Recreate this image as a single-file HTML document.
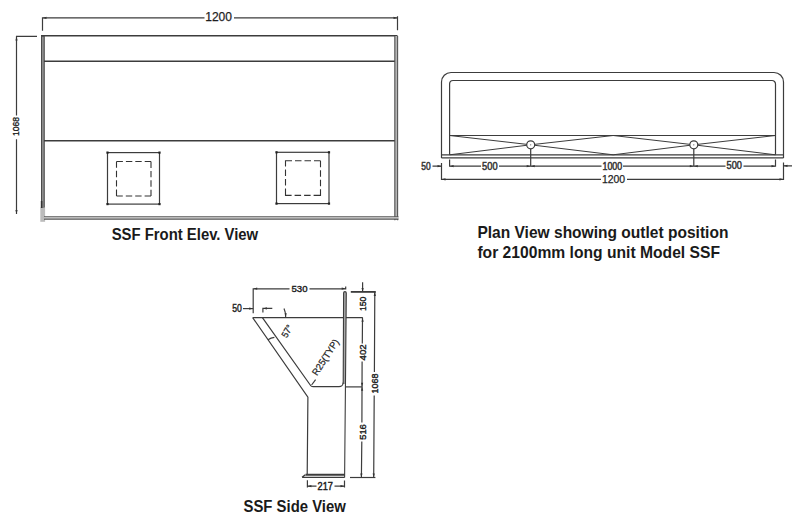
<!DOCTYPE html>
<html><head><meta charset="utf-8"><title>SSF</title>
<style>
html,body{margin:0;padding:0;background:#fff;width:800px;height:521px;overflow:hidden}
svg{display:block}
text{font-family:"Liberation Sans",sans-serif}
.b{font-weight:bold;fill:#1a1a1a}
.d{fill:#1e1e1e;stroke:#1e1e1e;stroke-width:0.25}
</style></head><body>
<svg width="800" height="521" viewBox="0 0 800 521">
<g fill="none" stroke="#3c3c3c" stroke-width="1.2">
<!-- ===== FRONT ELEVATION ===== -->
<!-- top dimension -->
<path d="M42.5,30.8 V17.9 H204.5 M234,17.9 H397.5 V16.3 M397.5,17.9 V30.3"/>
<!-- frame -->
<path d="M41,35.8 H397.5" stroke-width="1.6"/>
<rect x="41.6" y="36.2" width="2.6" height="171.5" fill="#9a9a9a" stroke="#444" stroke-width="1.1"/>
<rect x="40.3" y="207.5" width="4.8" height="14.3" fill="#bcbcbc" stroke="none"/>
<rect x="40.8" y="201" width="1.6" height="7" fill="#333" stroke="none"/>
<rect x="394.8" y="36" width="2.8" height="184" fill="#b4b4b4" stroke="none"/>
<path d="M394.8,36 V220.2 M397.6,36 V220.2" stroke-width="1.1" stroke="#555"/>
<rect x="44" y="217" width="354" height="2" fill="#dedede" stroke="none"/>
<path d="M44,216.7 H398.5 M44,219.1 H398.5" stroke-width="1.1" stroke="#555"/>
<path d="M44,61.3 H394.8 M44,140.8 H394.8" stroke-width="1.4"/>
<!-- squares -->
<rect x="107.5" y="152.6" width="52" height="51.5" stroke-width="1.2"/>
<rect x="276.5" y="152.3" width="52.5" height="51.3" stroke-width="1.2"/>
<rect x="116.5" y="161.5" width="34.5" height="34.5" stroke-width="1.1" stroke="#333" stroke-dasharray="6.4 3 6.4 3 6.4 3 6.3 0"/>
<rect x="285.5" y="160.8" width="35" height="34.6" stroke-width="1.1" stroke="#333" stroke-dasharray="6.5 3 6.5 3 6.5 3 6.5 0"/>
<rect x="106.4" y="151.5" width="2.2" height="2.2" fill="#222" stroke="none"/><rect x="158.4" y="151.5" width="2.2" height="2.2" fill="#222" stroke="none"/><rect x="106.4" y="203.0" width="2.2" height="2.2" fill="#222" stroke="none"/><rect x="158.4" y="203.0" width="2.2" height="2.2" fill="#222" stroke="none"/><rect x="275.4" y="151.2" width="2.2" height="2.2" fill="#222" stroke="none"/><rect x="327.9" y="151.2" width="2.2" height="2.2" fill="#222" stroke="none"/><rect x="275.4" y="202.5" width="2.2" height="2.2" fill="#222" stroke="none"/><rect x="327.9" y="202.5" width="2.2" height="2.2" fill="#222" stroke="none"/>
<!-- left dimension -->
<path d="M16,36.3 H37 M16.5,36.3 V115.5 M16.5,139.3 V214"/>
</g>
<text class="d" x="205.2" y="21.2" font-size="13" textLength="26.8" lengthAdjust="spacingAndGlyphs">1200</text>
<text class="d" transform="translate(15.9,126.6) rotate(-90)" text-anchor="middle" dy="0.35em" font-size="9" style="stroke-width:0.35" textLength="19" lengthAdjust="spacingAndGlyphs">1068</text>
<text class="b" x="111.7" y="239.6" font-size="17.2" textLength="146.5" lengthAdjust="spacingAndGlyphs">SSF Front Elev. View</text>

<!-- ===== PLAN VIEW ===== -->
<g fill="none" stroke="#3c3c3c" stroke-width="1.2">
<path d="M441.5,158 V82 A9.5,9.5 0 0 1 451,72.5 H774 A9.5,9.5 0 0 1 783.5,82 V158"/>
<path d="M449.6,154.8 V84 A3.5,3.5 0 0 1 453.1,80.5 H772 A3.5,3.5 0 0 1 775.5,84 V154.8"/>
<path d="M441.5,154.8 H783.5 M441.5,157.9 H783.5"/>
<path d="M449.6,135.5 H775.5"/>
<path d="M449.6,135.5 L530.7,144.8 L613.2,135.5 L693.8,144.8 L775.5,135.5 M449.6,154.8 L530.7,144.8 L613.2,154.8 L693.8,144.8 L775.5,154.8" stroke-width="1"/>
<circle cx="530.7" cy="144.8" r="4" fill="#fff"/>
<circle cx="693.8" cy="144.8" r="4" fill="#fff"/>
<circle cx="530.7" cy="144.8" r="0.6" fill="#555" stroke="none"/><circle cx="693.8" cy="144.8" r="0.6" fill="#555" stroke="none"/>
<path d="M530.7,148.8 V166 M693.8,148.8 V166"/>
<!-- dims -->
<path d="M449.6,159.5 V166.2 H481 M499,166.2 H601.5 M623,166.2 H725.5 M743.5,166.2 H775.5 V159.5"/>
<path d="M432.5,166.2 H441.5 M441.5,163 V179.3 H601 M627,179.3 H783.5 V162.5 M783.5,165.8 H792"/>
</g>
<text class="d" x="421.3" y="169.8" font-size="10.4" style="stroke-width:0.5;fill:#2a2a2a;stroke:#3a3a3a" textLength="9.4" lengthAdjust="spacingAndGlyphs">50</text>
<text class="d" x="482.1" y="169.7" font-size="10.4" style="stroke-width:0.5;fill:#2a2a2a;stroke:#3a3a3a" textLength="15.5" lengthAdjust="spacingAndGlyphs">500</text>
<text class="d" x="602.5" y="169.6" font-size="10" style="stroke-width:0.5;fill:#2a2a2a;stroke:#3a3a3a" textLength="19.7" lengthAdjust="spacingAndGlyphs">1000</text>
<text class="d" x="726.6" y="169.4" font-size="10.4" style="stroke-width:0.5;fill:#2a2a2a;stroke:#3a3a3a" textLength="15.4" lengthAdjust="spacingAndGlyphs">500</text>
<text class="d" x="601.9" y="182.8" font-size="11" textLength="23.2" lengthAdjust="spacingAndGlyphs">1200</text>
<text class="b" x="477.4" y="237.9" font-size="16.6" textLength="251" lengthAdjust="spacingAndGlyphs">Plan View showing outlet position</text>
<text class="b" x="477.4" y="258.2" font-size="16.6" textLength="242.6" lengthAdjust="spacingAndGlyphs">for 2100mm long unit Model SSF</text>

<!-- ===== SIDE VIEW ===== -->
<g fill="none" stroke="#3c3c3c" stroke-width="1.2">
<path d="M253.2,313.3 V288.8 H289.5 M309.5,288.8 H345.7 V286.5"/>
<path d="M243,308.6 H253.2"/>
<path d="M262.9,312.5 V308.4 H272.3"/>
<path d="M252.7,317.7 H362.8"/>
<path d="M252.7,317.7 L307.9,397.2 L307.2,474.8"/>
<path d="M262.4,317.7 L310.6,385.5 Q311.3,386.7 313,386.7 H339 A4.2,4.2 0 0 0 343.2,382.5"/>
<path d="M343.2,384 L343.6,293 A1.35,1.35 0 0 1 346.3,293 L345.6,384 Z" fill="#a8a8a8" stroke="none"/>
<path d="M343.2,384 L343.6,293 A1.35,1.35 0 0 1 346.3,293 L344.6,477.6" stroke-width="1.1"/>
<path d="M305.5,474.8 H344.7" stroke-width="1.9"/>
<path d="M302,477.3 L305.3,474.8 M302,477.3 H344.6" stroke-width="1.3"/>
<path d="M284,308.6 Q285.6,312 285.7,317.3"/>
<path d="M268,339.7 Q271,337.6 274.4,337.3"/>
<path d="M315.6,379.7 L311.6,385"/>
<!-- right dims -->
<path d="M350.8,291.9 H375.8" stroke-width="1.8"/>
<path d="M362.6,282.3 V291.9"/>
<path d="M362.5,317.7 L362.3,343.5 M362.1,361.5 L361.9,422.5 M361.8,441.5 L361.4,477.5"/>
<path d="M346,386.9 H362.2"/>
<path d="M374.8,291.9 L374.4,372 M374.2,395.5 L373.7,477.5"/>
<path d="M350,477.5 H375.4"/>
<path d="M307.4,480.3 V487.5 M307.4,486.2 H316.5 M334.5,486.2 H344.5 M344.5,480.5 V487.5"/>
</g>
<text class="d" style="stroke-width:0.4" x="291.5" y="292" font-size="9.6" textLength="16" lengthAdjust="spacingAndGlyphs">530</text>
<text class="d" style="stroke-width:0.4" x="232.2" y="311.8" font-size="10" textLength="9.6" lengthAdjust="spacingAndGlyphs">50</text>
<text class="d" style="stroke-width:0.4" transform="translate(362.85,303.9) rotate(-90)" text-anchor="middle" dy="0.35em" font-size="9.6" textLength="14.4" lengthAdjust="spacingAndGlyphs">150</text>
<text class="d" style="stroke-width:0.4" transform="translate(362.4,352.4) rotate(-90)" text-anchor="middle" dy="0.35em" font-size="9.6" textLength="16.2" lengthAdjust="spacingAndGlyphs">402</text>
<text class="d" style="stroke-width:0.4" transform="translate(362.1,432) rotate(-90)" text-anchor="middle" dy="0.35em" font-size="9.8" textLength="15.7" lengthAdjust="spacingAndGlyphs">516</text>
<text class="d" style="stroke-width:0.4" transform="translate(375.1,383.5) rotate(-90)" text-anchor="middle" dy="0.35em" font-size="9.6" textLength="19.9" lengthAdjust="spacingAndGlyphs">1068</text>
<text class="d" transform="translate(287,331.1) rotate(-60)" text-anchor="middle" dy="0.35em" font-size="9.6" textLength="13" lengthAdjust="spacingAndGlyphs">57°</text>
<text class="d" transform="translate(325.4,357.2) rotate(-57)" text-anchor="middle" dy="0.35em" font-size="9.6" textLength="41" lengthAdjust="spacingAndGlyphs">R25(TYP)</text>
<text class="d" x="317.6" y="489.6" font-size="10" style="stroke-width:0.45" textLength="15.3" lengthAdjust="spacingAndGlyphs">217</text>
<text class="b" x="243.5" y="512.1" font-size="17.4" textLength="102.3" lengthAdjust="spacingAndGlyphs">SSF Side View</text>
<path d="M42.5,17.9 L46.5,16.8 L46.5,19.0Z M397.5,17.9 L393.5,16.8 L393.5,19.0Z M16.5,36.5 L15.4,40.5 L17.6,40.5Z M16.5,214.0 L15.4,210.0 L17.6,210.0Z M441.5,166.2 L437.5,165.1 L437.5,167.3Z M449.6,166.2 L453.6,165.1 L453.6,167.3Z M530.7,166.2 L526.7,165.1 L526.7,167.3Z M530.7,166.2 L534.7,165.1 L534.7,167.3Z M693.8,166.2 L689.8,165.1 L689.8,167.3Z M693.8,166.2 L697.8,165.1 L697.8,167.3Z M775.5,166.2 L771.5,165.1 L771.5,167.3Z M783.5,165.8 L787.5,164.7 L787.5,166.9Z M441.5,179.3 L445.5,178.2 L445.5,180.4Z M783.5,179.3 L779.5,178.2 L779.5,180.4Z M253.2,288.6 L257.2,287.5 L257.2,289.7Z M345.7,288.6 L341.7,287.5 L341.7,289.7Z M253.2,308.6 L249.2,307.5 L249.2,309.7Z M262.9,308.4 L266.9,307.3 L266.9,309.5Z M362.6,291.9 L361.5,287.9 L363.7,287.9Z M362.6,317.7 L361.5,321.7 L363.7,321.7Z M362.1,386.8 L361.0,382.8 L363.2,382.8Z M362.1,386.8 L361.0,390.8 L363.2,390.8Z M361.4,477.5 L360.3,473.5 L362.5,473.5Z M374.8,291.9 L373.7,295.9 L375.9,295.9Z M373.7,477.5 L372.6,473.5 L374.8,473.5Z M307.4,486.2 L311.4,485.1 L311.4,487.3Z M344.5,486.2 L340.5,485.1 L340.5,487.3Z M285.7,317.3 L284.6,313.3 L286.8,313.3Z" fill="#333" stroke="none"/>
</svg>
</body></html>
